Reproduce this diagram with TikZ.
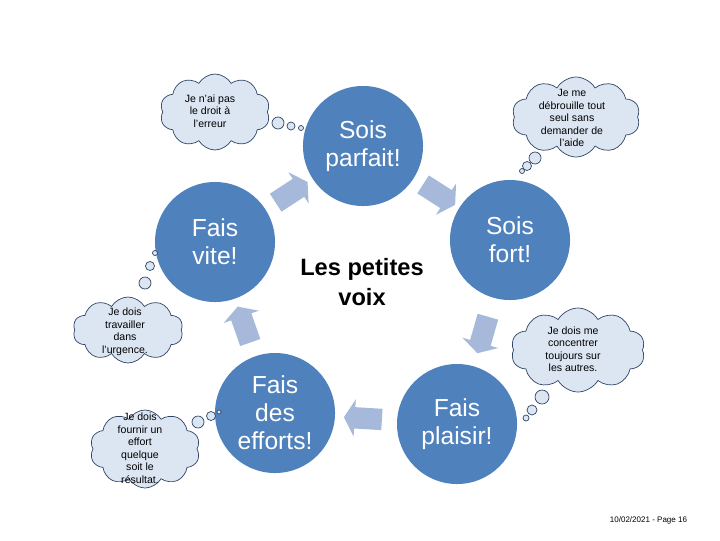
\documentclass[tikz,border=0pt]{standalone}
\usepackage{fontspec}
\setmainfont{Liberation Sans}
\usetikzlibrary{shapes.symbols,shapes.arrows}
\definecolor{voixblue}{HTML}{4F81BD}
\definecolor{flecheblue}{HTML}{A7B9DA}
\definecolor{nuagefill}{HTML}{DCE6F2}
\definecolor{nuagedraw}{HTML}{2F4466}
\begin{document}
\begin{tikzpicture}[x=0.025cm,y=-0.025cm,
  voix/.style={circle,fill=voixblue,minimum size=3cm,inner sep=0pt,text=white,align=center,font=\fontsize{17.5}{19.8}\selectfont},
  fleche/.style={single arrow,fill=flecheblue,minimum height=0.95cm,inner xsep=0pt,inner ysep=0.26cm,single arrow head extend=0.2cm,single arrow tip angle=120,sloped,allow upside down,midway},
  nuage/.style={cloud,cloud puffs=10,cloud puff arc=120,cloud ignores aspect,fill=nuagefill,draw=nuagedraw,line width=0.5pt,inner sep=0pt},
  pensee/.style={align=center,font=\fontsize{7.5}{8.9}\selectfont},
  bulle/.style={fill=nuagefill,draw=nuagedraw,line width=0.5pt}]
  \useasboundingbox (0,0) rectangle (720,540);
  \node[voix] (parfait) at (363,146) {Sois\\parfait!};
  \node[voix] (vite) at (215,242) {Fais\\vite!};
  \node[voix] (fort) at (510,240) {Sois\\fort!};
  \node[voix] (efforts) at (275,413) {Fais\\des\\efforts!};
  \node[voix] (plaisir) at (457,424) {Fais\\plaisir!};
  \node[font=\bfseries\fontsize{16.8}{21}\selectfont,align=center] (centre) at (362,282) {Les petites\\voix};
  \path (vite) -- (parfait) node[fleche] (f1) {};
  \path (parfait) -- (fort) node[fleche] (f2) {};
  \path (fort) -- (plaisir) node[fleche] (f3) {};
  \path (plaisir) -- (efforts) node[fleche] (f4) {};
  \path (efforts) -- (vite) node[fleche] (f5) {};
  \node[nuage,minimum width=2.75cm,minimum height=1.9cm] (nuageA) at (215,112) {};
  \node[nuage,minimum width=3.2cm,minimum height=2.0cm] (nuageB) at (576,117) {};
  \node[nuage,minimum width=2.75cm,minimum height=1.65cm] (nuageC) at (128,330) {};
  \node[nuage,minimum width=2.75cm,minimum height=1.95cm] (nuageD) at (145,449) {};
  \node[nuage,minimum width=3.35cm,minimum height=2.1cm] (nuageE) at (578,350) {};
  \foreach \x/\y/\r in {278/123/6,291/126/4,301/128/2.5,
                        535/158/6,527/166/4.5,522/171/2.5,
                        145/283/6,150/266/4.5,155/253/2.5,
                        198/422/6,211/416/4.5,219/412/2,
                        542/397/7,532/410/5,526/418/3}
    \draw[bulle] (\x,\y) circle (\r);
  \node[pensee] (penseeA) at (210,111) {Je n'ai pas\\le droit à\\l'erreur};
  \node[pensee] (penseeB) at (572,118) {Je me\\débrouille tout\\seul sans\\demander de\\l'aide};
  \node[pensee] (penseeC) at (125,332) {Je dois\\travailler\\dans\\l'urgence.};
  \node[pensee] (penseeD) at (140,448) {Je dois\\fournir un\\effort\\quelque\\soit le\\résultat.};
  \node[pensee] (penseeE) at (573,349) {Je dois me\\concentrer\\toujours sur\\les autres.};
  \node[font=\fontsize{5.7}{7}\selectfont,anchor=east] (pied) at (692,520) {10/02/2021 - Page 16};
\end{tikzpicture}
\end{document}
